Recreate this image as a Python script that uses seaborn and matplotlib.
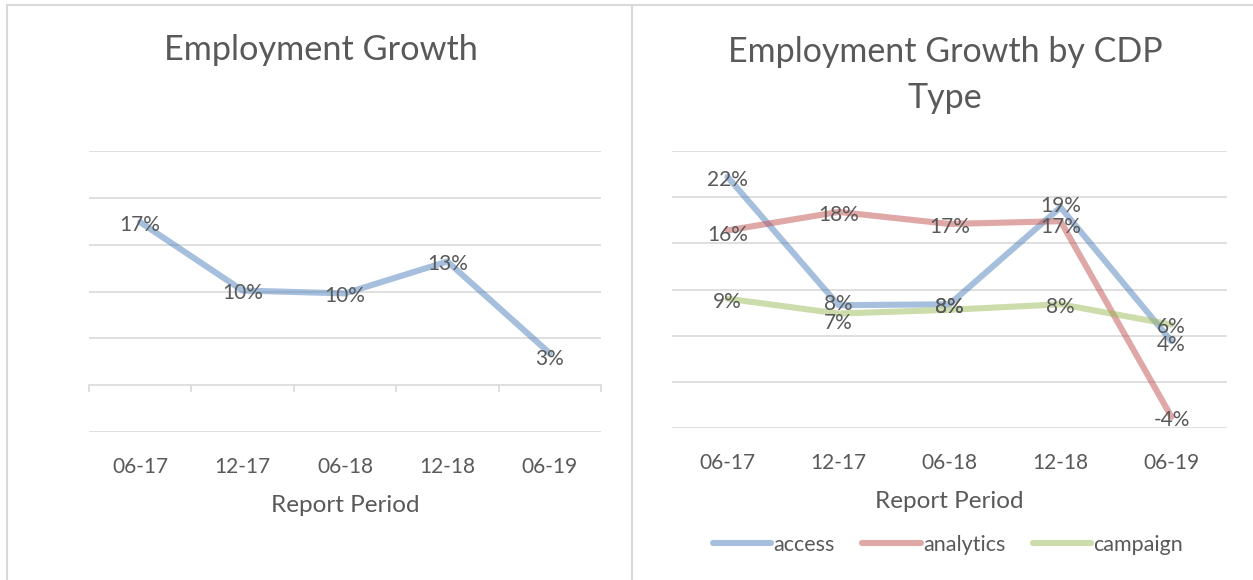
import matplotlib
matplotlib.use("Agg")
import matplotlib.pyplot as plt
from matplotlib.patches import Rectangle
from matplotlib.lines import Line2D
import pandas as pd
import seaborn as sns

# Report periods and growth figures
periods = ["06-17", "12-17", "06-18", "12-18", "06-19"]
overall_growth = [0.174, 0.101, 0.098, 0.132, 0.034]

cdp_types = ["access", "analytics", "campaign"]
access_growth = [0.222, 0.083, 0.084, 0.189, 0.044]
analytics_growth = [0.164, 0.184, 0.171, 0.174, -0.038]
campaign_growth = [0.090, 0.074, 0.078, 0.084, 0.062]

y_ticks = [-0.05, 0.0, 0.05, 0.10, 0.15, 0.20, 0.25]

# Styling
sns.set_theme(style="white")
plt.rcParams["font.family"] = ["Lato", "DejaVu Sans"]
TEXT = "#595959"
GRID = "#d9d9d9"
palette = {"access": "#4F81BD", "analytics": "#C0504D", "campaign": "#9BBB59"}
LINE_ALPHA = 0.5
LW = 4.4
LABEL_FS = 15

overall_df = pd.DataFrame({"period": periods, "growth": overall_growth})
by_type_df = pd.DataFrame({
    "period": periods * 3,
    "growth": access_growth + analytics_growth + campaign_growth,
    "type": [t for t in cdp_types for _ in periods],
})

W, H = 1253, 580
fig = plt.figure(figsize=(W / 100, H / 100), dpi=100)

# Chart frames
fig.add_artist(Rectangle((7 / W, -0.1), (632 - 7) / W, 1.1 - 5 / H,
                         transform=fig.transFigure, fill=False,
                         edgecolor=GRID, linewidth=1.5))
fig.add_artist(Rectangle((632 / W, -0.1), 1.0, 1.1 - 5 / H,
                         transform=fig.transFigure, fill=False,
                         edgecolor=GRID, linewidth=1.5))


def axes_px(x0, x1, ytop, ybot):
    return fig.add_axes([x0 / W, 1 - ybot / H, (x1 - x0) / W, (ybot - ytop) / H])


def style_axes(ax):
    ax.set_xlim(-0.5, 4.5)
    ax.set_ylim(-0.05, 0.25)
    ax.set_yticks(y_ticks)
    ax.set_yticklabels([])
    ax.tick_params(axis="y", length=0)
    ax.yaxis.grid(True, color=GRID, linewidth=1.2)
    ax.xaxis.grid(False)
    for s in ax.spines.values():
        s.set_visible(False)
    ax.set_xticks(range(len(periods)))
    ax.set_xticklabels(periods)
    ax.tick_params(axis="x", length=0, pad=18, labelsize=15, labelcolor=TEXT)
    ax.set_ylabel("")
    ax.set_xlabel("Report Period", fontsize=17.5, color=TEXT, labelpad=13)
    ax.set_axisbelow(True)


def label_points(ax, values, nudges=None):
    for i, v in enumerate(values):
        dy = -2
        if nudges and i in nudges:
            dy = nudges[i]
        ax.annotate(f"{round(v * 100):.0f}%", (i, v), xytext=(0, dy),
                    textcoords="offset points", ha="center", va="center",
                    fontsize=LABEL_FS, color=TEXT)


# Left: overall employment growth
ax1 = axes_px(89, 601, 151, 432)
sns.lineplot(data=overall_df, x="period", y="growth", ax=ax1, sort=False,
             color=palette["access"], alpha=LINE_ALPHA, linewidth=LW,
             solid_capstyle="round", solid_joinstyle="round")
style_axes(ax1)
ax1.yaxis.grid(False)
for yv in y_ticks:
    if yv != 0.0:
        ax1.axhline(yv, color=GRID, linewidth=1.2, zorder=0)
# Category axis crossing at zero, with tick marks between categories
zero_axis = ax1.secondary_xaxis(1 / 6)
zero_axis.set_xticks([i - 0.5 for i in range(len(periods) + 1)])
zero_axis.set_xticklabels([])
zero_axis.tick_params(axis="x", direction="out", length=5, width=1.2, color=GRID)
zero_axis.spines["bottom"].set_color(GRID)
zero_axis.spines["bottom"].set_linewidth(1.2)
label_points(ax1, overall_growth, nudges={4: -4})
fig.text(321 / W, 1 - 50 / H, "Employment Growth", ha="center", va="center",
         fontsize=24.7, color=TEXT)

# Right: employment growth by CDP type
ax2 = axes_px(672, 1227, 151, 428)
sns.lineplot(data=by_type_df, x="period", y="growth", hue="type",
             hue_order=cdp_types, palette=palette, ax=ax2, sort=False,
             alpha=LINE_ALPHA, linewidth=LW,
             solid_capstyle="round", solid_joinstyle="round")
style_axes(ax2)
ax2.get_legend().remove()
label_points(ax2, access_growth, nudges={1: 1, 3: 1, 4: -3})
label_points(ax2, analytics_growth, nudges={0: -3, 3: -4})
label_points(ax2, campaign_growth, nudges={1: -7, 2: 2, 4: -2})
fig.text(945 / W, 1 - 75 / H, "Employment Growth by CDP\nType", ha="center",
         va="center", fontsize=24.5, color=TEXT, linespacing=1.5)

handles = [Line2D([], [], color=palette[t], alpha=LINE_ALPHA, linewidth=LW,
                  solid_capstyle="round") for t in cdp_types]
leg = fig.legend(handles, cdp_types, loc="center", ncol=3,
                 bbox_to_anchor=(948 / W, 1 - 545 / H), frameon=False,
                 fontsize=15.5, handlelength=2.7, handletextpad=0.1,
                 columnspacing=1.3, labelcolor=TEXT)

fig.savefig("out.png", dpi=100)
